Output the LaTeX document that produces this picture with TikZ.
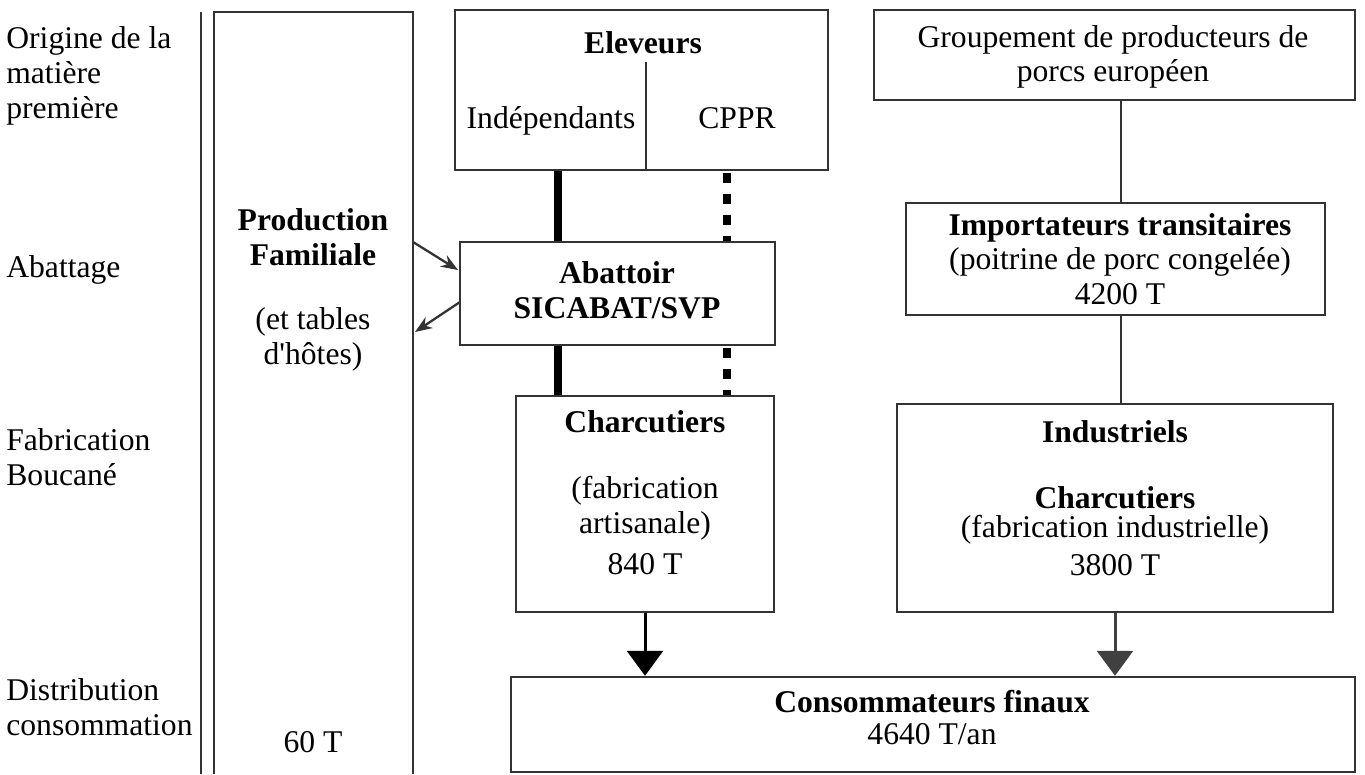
\documentclass[tikz,border=0pt]{standalone}
\usepackage{fontspec}
\setmainfont{Liberation Serif}
\usetikzlibrary{arrows.meta}
\definecolor{ln}{HTML}{333333}
\begin{document}
\begin{tikzpicture}[x=0.02cm,y=-0.02cm,
  box/.style={draw=ln,line width=1.4pt,rectangle,inner sep=0pt},
  txt/.style={inner sep=0pt,align=center,font=\fontsize{18}{19.8}\selectfont},
  btxt/.style={txt,font=\fontsize{18}{19.8}\selectfont\bfseries},
  lbl/.style={inner sep=0pt,align=left,anchor=west,font=\fontsize{18}{19.8}\selectfont},
  thickline/.style={line width=4.6pt,black},
  dotline/.style={line width=4.6pt,black,dash pattern=on 5.7pt off 6.2pt},
  thinline/.style={line width=1.3pt,ln},
  bigarrow/.style={line width=1.7pt,-{Triangle[width=0.72cm,length=0.5cm]}},
  smallarrow/.style={line width=1.3pt,ln,-{Stealth[length=0.34cm,width=0.26cm]}}]
\useasboundingbox (0,0) rectangle (1365,774);

% left labels
\node[lbl] (orig) at (6,76) {Origine de la\\matière\\première};
\node[lbl] (abtg) at (6,270) {Abattage};
\node[lbl] (fabr) at (6,457) {Fabrication\\Boucané};
\node[lbl] (dist) at (6,707) {Distribution\\consommation};

% left vertical rule and family production box
\coordinate (v1) at (201,12);
\coordinate (v2) at (201,774);
\draw[line width=1.2pt,ln] (v1) -- (v2);
\coordinate (pf1) at (214,774);
\coordinate (pf2) at (214,12);
\coordinate (pf3) at (413,12);
\coordinate (pf4) at (413,774);
\draw[line width=1.4pt,ln] (pf1) -- (pf2) -- (pf3) -- (pf4);
\node[btxt] (prod) at (313,237) {Production\\Familiale};
\node[txt] (tabl) at (313,339) {(et tables\\d\textquotesingle hôtes)};
\node[txt] (soix) at (313,742) {60 T};

% boxes
\node[box,minimum width=7.46cm,minimum height=3.2cm] (elev) at (641.5,90) {};
\node[box,minimum width=9.62cm,minimum height=1.8cm] (grp) at (1114.5,55) {};
\node[box,minimum width=6.3cm,minimum height=2.06cm] (abat) at (617.5,293.5) {};
\node[box,minimum width=5.16cm,minimum height=4.32cm] (charc) at (645,504) {};
\node[box,minimum width=8.38cm,minimum height=2.24cm] (imp) at (1115.5,259) {};
\node[box,minimum width=8.72cm,minimum height=4.16cm] (indus) at (1115,508) {};
\node[box,minimum width=16.88cm,minimum height=1.9cm] (conso) at (933,724.5) {};

% eleveurs divider
\coordinate (dv) at (646,62);
\draw[thinline] (dv) -- (dv |- elev.south);

% texts
\node[btxt] (telev) at (643,43) {Eleveurs};
\node[txt,anchor=base] (tind) at (551,128) {Indépendants};
\node[txt,anchor=base] (tcppr) at (737,128) {CPPR};
\node[txt] (tgrp) at (1113,57) {Groupement de producteurs de\\porcs européen};
\node[btxt] (tabat) at (617,290) {Abattoir\\SICABAT/SVP};
\node[btxt] (tcharc) at (645,422) {Charcutiers};
\node[txt] (tfab) at (645,508) {(fabrication\\artisanale)};
\node[txt] (t840) at (645,564) {840 T};
\node[btxt] (timp) at (1120,228) {Importateurs transitaires};
\node[txt] (tpoit) at (1120,262) {(poitrine de porc congelée)};
\node[txt] (t4200) at (1120,294) {4200 T};
\node[btxt] (tindus) at (1115,432) {Industriels};
\node[btxt] (tcharc2) at (1115,498) {Charcutiers};
\node[txt] (tfabi) at (1115,530) {(fabrication industrielle)};
\node[txt] (t3800) at (1115,565) {3800 T};
\node[btxt] (tcons) at (932,702) {Consommateurs finaux};
\node[txt] (t4640) at (932,734) {4640 T/an};

% connectors
\coordinate (xa) at (558,0);
\coordinate (xb) at (727,0);
\coordinate (xc) at (1121,0);
\draw[thickline] (elev.south -| xa) -- (abat.north -| xa);
\draw[dotline] ([yshift=-1pt]elev.south -| xb) -- (abat.north -| xb);
\draw[thickline] (abat.south -| xa) -- (charc.north -| xa);
\draw[dotline] ([yshift=-1pt]abat.south -| xb) -- (charc.north -| xb);
\draw[thinline] (grp.south -| xc) -- (imp.north -| xc);
\draw[thinline] (imp.south -| xc) -- (indus.north -| xc);
\draw[bigarrow,black] (charc.south) -- (charc.south |- conso.north);
\draw[bigarrow,draw=black!75,fill=black!75] (indus.south) -- (indus.south |- conso.north);

\coordinate (s1) at (413,242);
\coordinate (e1) at (458,270);
\coordinate (s2) at (460,302);
\coordinate (e2) at (415,332);
\draw[smallarrow] (s1) -- (e1);
\draw[smallarrow] (s2) -- (e2);
\end{tikzpicture}
\end{document}
